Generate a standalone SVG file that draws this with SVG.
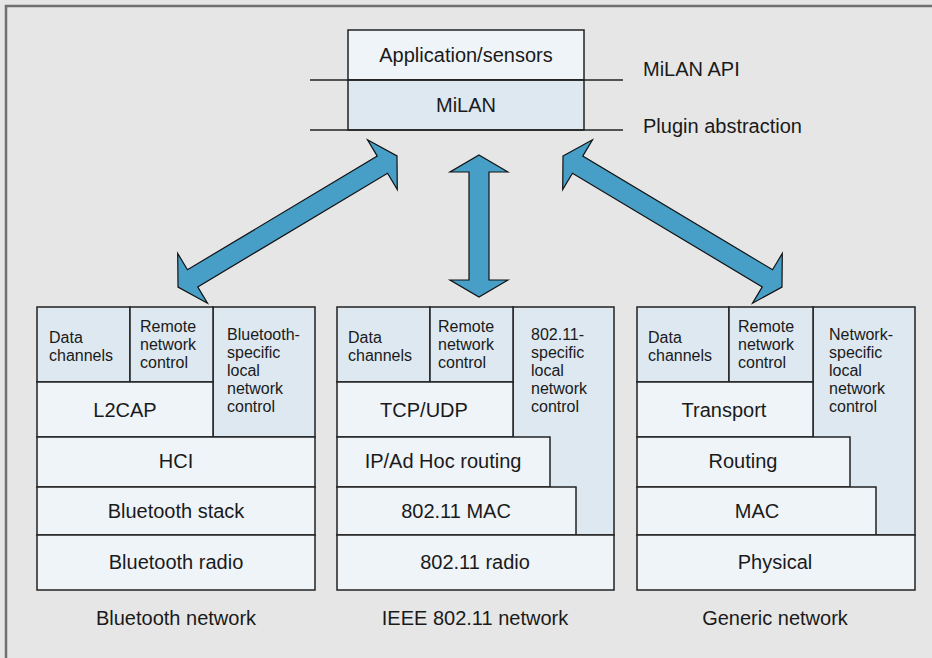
<svg xmlns="http://www.w3.org/2000/svg" width="932" height="658" viewBox="0 0 932 658">
<defs>
<style>
.bg{fill:#e6e6e6}
.frame{fill:none;stroke:#707070;stroke-width:2.5}
.lt{fill:#eff4f9;stroke:#222;stroke-width:1.5}
.dk{fill:#dde8f1;stroke:#222;stroke-width:1.5}
.sep{stroke:#222;stroke-width:1.5}
.big{font-family:"Liberation Sans",Arial,sans-serif;font-size:20px;fill:#1a1a1a;text-anchor:middle}
.sm{font-family:"Liberation Sans",Arial,sans-serif;font-size:16px;fill:#1a1a1a}
.side{font-family:"Liberation Sans",Arial,sans-serif;font-size:20px;fill:#1a1a1a}
.arrow{fill:#479ec6;stroke:#111;stroke-width:1.2;stroke-linejoin:miter}
</style>
</defs>
<rect class="bg" x="0" y="0" width="932" height="658"/>
<rect class="frame" x="6" y="6" width="940" height="670"/>

<g id="top-stack">
<rect class="lt" x="348" y="30" width="236" height="50"/>
<rect class="dk" x="348" y="80" width="236" height="50"/>
<line class="sep" x1="310" y1="80" x2="623" y2="80"/>
<line class="sep" x1="310" y1="130" x2="623" y2="130"/>
<text class="big" x="466" y="62">Application/sensors</text>
<text class="big" x="466" y="112">MiLAN</text>
</g>
<g id="api-labels">
<text class="side" x="643" y="76">MiLAN API</text>
<text class="side" x="643" y="133">Plugin abstraction</text>
</g>

<g id="connectors">
<polygon id="arrow-left" class="arrow" transform="translate(287.5,221.5) rotate(-30.9)" points="-127.6,0 -110.6,-29 -110.6,-10 110.6,-10 110.6,-29 127.6,0 110.6,29 110.6,10 -110.6,10 -110.6,29"/>
<polygon id="arrow-mid" class="arrow" transform="translate(479,226) rotate(90)" points="-71,0 -54,-29 -54,-10 54,-10 54,-29 71,0 54,29 54,10 -54,10 -54,29"/>
<polygon id="arrow-right" class="arrow" transform="translate(672.5,221.5) rotate(30.9)" points="-127.6,0 -110.6,-29 -110.6,-10 110.6,-10 110.6,-29 127.6,0 110.6,29 110.6,10 -110.6,10 -110.6,29"/>
</g>

<g id="bluetooth-stack">
<rect class="dk" x="213" y="307" width="102" height="130"/>
<rect class="dk" x="37" y="307" width="93" height="75"/>
<rect class="dk" x="130" y="307" width="83" height="75"/>
<rect class="lt" x="37" y="382" width="176" height="55"/>
<rect class="lt" x="37" y="437" width="278" height="50"/>
<rect class="lt" x="37" y="487" width="278" height="48"/>
<rect class="lt" x="37" y="535" width="278" height="55"/>
<text class="sm" x="49"><tspan x="49" y="343">Data</tspan><tspan x="49" y="361">channels</tspan></text>
<text class="sm" x="140"><tspan x="140" y="332">Remote</tspan><tspan x="140" y="350">network</tspan><tspan x="140" y="368">control</tspan></text>
<text class="sm" x="227"><tspan x="227" y="340">Bluetooth-</tspan><tspan x="227" y="358">specific</tspan><tspan x="227" y="376">local</tspan><tspan x="227" y="394">network</tspan><tspan x="227" y="412">control</tspan></text>
<text class="big" x="125" y="417">L2CAP</text>
<text class="big" x="176" y="468">HCI</text>
<text class="big" x="176" y="518">Bluetooth stack</text>
<text class="big" x="176" y="569">Bluetooth radio</text>
<text class="big" x="176" y="625">Bluetooth network</text>
</g>

<g id="ieee-stack">
<rect class="dk" x="513" y="307" width="101" height="228"/>
<rect class="dk" x="337" y="307" width="93" height="75"/>
<rect class="dk" x="430" y="307" width="83" height="75"/>
<rect class="lt" x="337" y="382" width="176" height="55"/>
<rect class="lt" x="337" y="437" width="213" height="50"/>
<rect class="lt" x="337" y="487" width="239" height="48"/>
<rect class="lt" x="337" y="535" width="277" height="55"/>
<text class="sm" x="348"><tspan x="348" y="343">Data</tspan><tspan x="348" y="361">channels</tspan></text>
<text class="sm" x="438"><tspan x="438" y="332">Remote</tspan><tspan x="438" y="350">network</tspan><tspan x="438" y="368">control</tspan></text>
<text class="sm" x="531"><tspan x="531" y="340">802.11-</tspan><tspan x="531" y="358">specific</tspan><tspan x="531" y="376">local</tspan><tspan x="531" y="394">network</tspan><tspan x="531" y="412">control</tspan></text>
<text class="big" x="424" y="417">TCP/UDP</text>
<text class="big" x="443" y="468">IP/Ad Hoc routing</text>
<text class="big" x="456" y="518">802.11 MAC</text>
<text class="big" x="475" y="569">802.11 radio</text>
<text class="big" x="475" y="625">IEEE 802.11 network</text>
</g>

<g id="generic-stack">
<rect class="dk" x="813" y="307" width="102" height="228"/>
<rect class="dk" x="637" y="307" width="92" height="75"/>
<rect class="dk" x="729" y="307" width="84" height="75"/>
<rect class="lt" x="637" y="382" width="176" height="55"/>
<rect class="lt" x="637" y="437" width="213" height="50"/>
<rect class="lt" x="637" y="487" width="239" height="48"/>
<rect class="lt" x="637" y="535" width="278" height="55"/>
<text class="sm" x="648"><tspan x="648" y="343">Data</tspan><tspan x="648" y="361">channels</tspan></text>
<text class="sm" x="738"><tspan x="738" y="332">Remote</tspan><tspan x="738" y="350">network</tspan><tspan x="738" y="368">control</tspan></text>
<text class="sm" x="829"><tspan x="829" y="340">Network-</tspan><tspan x="829" y="358">specific</tspan><tspan x="829" y="376">local</tspan><tspan x="829" y="394">network</tspan><tspan x="829" y="412">control</tspan></text>
<text class="big" x="724" y="417">Transport</text>
<text class="big" x="743" y="468">Routing</text>
<text class="big" x="757" y="518">MAC</text>
<text class="big" x="775" y="569">Physical</text>
<text class="big" x="775" y="625">Generic network</text>
</g>
</svg>
